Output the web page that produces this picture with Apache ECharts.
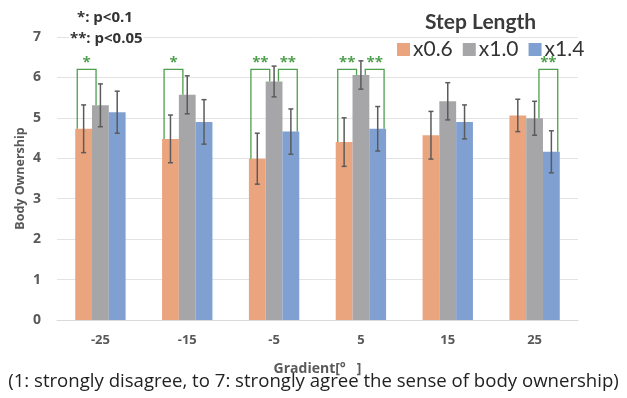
<!DOCTYPE html>
<html><head><meta charset="utf-8">
<script src="https://cdn.jsdelivr.net/npm/echarts@6/dist/echarts.min.js"></script>
<style>html,body{margin:0;padding:0;background:#fff}#c{width:627px;height:398px}</style>
</head><body><div id="c"></div>
<script>
const categories = ['-25', '-15', '-5', '5', '15', '25'];
const seriesNames = ['x0.6', 'x1.0', 'x1.4'];
const meanX06 = [4.73, 4.48, 3.99, 4.40, 4.57, 5.06];
const meanX10 = [5.31, 5.57, 5.90, 6.06, 5.41, 4.99];
const meanX14 = [5.14, 4.90, 4.66, 4.73, 4.90, 4.16];
const errX06 = [0.59, 0.59, 0.63, 0.60, 0.59, 0.40];
const errX10 = [0.53, 0.47, 0.38, 0.35, 0.46, 0.42];
const errX14 = [0.52, 0.55, 0.56, 0.55, 0.42, 0.52];
const yTicks = [0, 1, 2, 3, 4, 5, 6, 7];
// significance brackets
const bracketCategory = [0, 1, 2, 2, 3, 3, 5];
const bracketFrom = [0, 0, 0, 1, 0, 1, 1];
const bracketTo = [1, 1, 1, 2, 1, 2, 2];
const bracketLabel = ['*', '*', '**', '**', '**', '**', '**'];
const bracketTop = 6.2;

const colors = ['#EBA57E', '#A6A5A7', '#7FA0D1'];
const means = [meanX06, meanX10, meanX14];
const errs = [errX06, errX10, errX14];
const GAP = 0.42;
const F = '"Open Sans", sans-serif';

const chart = echarts.init(document.getElementById('c'));

function errSeries(si) {
  return {
    type: 'custom', z: 5, silent: true,
    data: categories.map((c, i) => [i, means[si][i] - errs[si][i], means[si][i] + errs[si][i]]),
    renderItem: function (params, api) {
      const band = api.size([1, 0])[0];
      const bw = band * (1 - GAP) / 3;
      const lo = api.coord([api.value(0), api.value(1)]);
      const hi = api.coord([api.value(0), api.value(2)]);
      const x = lo[0] + (si - 1) * bw;
      const cap = 2.5;
      const st = { stroke: '#5b5b5b', lineWidth: 1.5 };
      return { type: 'group', children: [
        { type: 'line', shape: { x1: x, y1: lo[1], x2: x, y2: hi[1] }, style: st },
        { type: 'line', shape: { x1: x - cap, y1: lo[1], x2: x + cap, y2: lo[1] }, style: st },
        { type: 'line', shape: { x1: x - cap, y1: hi[1], x2: x + cap, y2: hi[1] }, style: st }
      ]};
    }
  };
}

const bracketSeries = {
  type: 'custom', z: 6, silent: true,
  data: bracketCategory.map((c, i) => [c, means[bracketFrom[i]][c], means[bracketTo[i]][c], bracketTop, i]),
  renderItem: function (params, api) {
    const band = api.size([1, 0])[0];
    const bw = band * (1 - GAP) / 3;
    const c = api.value(0);
    const idx = api.value(4);
    const center = api.coord([c, 0])[0];
    const groupLeft = center - 1.5 * bw;
    let xl, xr;
    if (bracketFrom[idx] === 0) { xl = groupLeft + 0.12 * bw; xr = groupLeft + 1.24 * bw; }
    else { xl = groupLeft + 1.76 * bw; xr = groupLeft + 2.88 * bw; }
    const yl = api.coord([c, api.value(1)])[1];
    const yr = api.coord([c, api.value(2)])[1];
    const yt = api.coord([c, api.value(3)])[1];
    return { type: 'group', children: [
      { type: 'polyline', shape: { points: [[xl, yl], [xl, yt], [xr, yt], [xr, yr]] },
        style: { stroke: '#4E9F4E', lineWidth: 1.3, fill: null } },
      { type: 'text', style: { text: bracketLabel[idx], x: (xl + xr) / 2, y: yt + 1,
        align: 'center', verticalAlign: 'bottom', fill: '#4E9F4E', font: 'bold 15px ' + F } }
    ]};
  }
};

const option = {
  animation: false,
  backgroundColor: '#fff',
  grid: { left: 57, right: 49, top: 37, bottom: 78 },
  title: { text: 'Step Length', left: 420, top: 7,
    textStyle: { fontFamily: 'Lato, sans-serif', fontWeight: 'bold', fontSize: 21, color: '#3a3a3a' } },
  legend: {
    data: seriesNames, left: 394, top: 36, itemWidth: 13, itemHeight: 13, itemGap: 10,
    icon: 'rect', backgroundColor: 'rgba(0,0,0,0)', padding: [3, 3, 3, 3],
    textStyle: { fontFamily: 'Lato, sans-serif', fontSize: 21, color: '#333', padding: [0, 0, 0, -2] }
  },
  graphic: [
    { type: 'text', left: 77, top: 10, z: 10, style: { text: '*: p<0.1', font: 'bold 15px ' + F, fill: '#333' } },
    { type: 'text', left: 69, top: 31, z: 10, style: { text: '**: p<0.05', font: 'bold 15px ' + F, fill: '#333', backgroundColor: '#fff', padding: [0, 1, 0, 1] } },
    { type: 'text', left: 'center', top: 372, style: { text: '(1: strongly disagree, to 7: strongly agree the sense of body ownership)', font: '18.6px ' + F, fill: '#222' } }
  ],
  xAxis: {
    type: 'category', data: categories,
    name: 'Gradient[°   ]', nameLocation: 'middle', nameGap: 42,
    nameTextStyle: { fontFamily: F, fontWeight: 'bold', fontSize: 14, color: '#595959' },
    axisLine: { lineStyle: { color: '#d9d9d9', width: 1 } },
    axisTick: { show: false },
    axisLabel: { fontFamily: F, fontWeight: 'bold', fontSize: 13, color: '#595959', margin: 14 }
  },
  yAxis: {
    type: 'value', min: 0, max: 7, interval: 1,
    name: 'Body Ownership', nameLocation: 'middle', nameGap: 30, nameRotate: 90,
    nameMoveOverlap: false,
    nameTextStyle: { fontFamily: F, fontWeight: 'bold', fontSize: 12.5, color: '#595959' },
    axisLine: { show: false }, axisTick: { show: false },
    axisLabel: { fontFamily: F, fontWeight: 'bold', fontSize: 14, color: '#595959', margin: 16,
      formatter: v => yTicks.includes(v) ? String(v) : '' },
    splitLine: { lineStyle: { color: '#e3e3e3', width: 1 } }
  },
  series: [
    ...seriesNames.map((n, si) => ({
      name: n, type: 'bar', data: means[si], barGap: '0%', barCategoryGap: (GAP * 100) + '%',
      itemStyle: { color: colors[si] }
    })),
    errSeries(0), errSeries(1), errSeries(2),
    bracketSeries
  ]
};
chart.setOption(option);
</script></body></html>
